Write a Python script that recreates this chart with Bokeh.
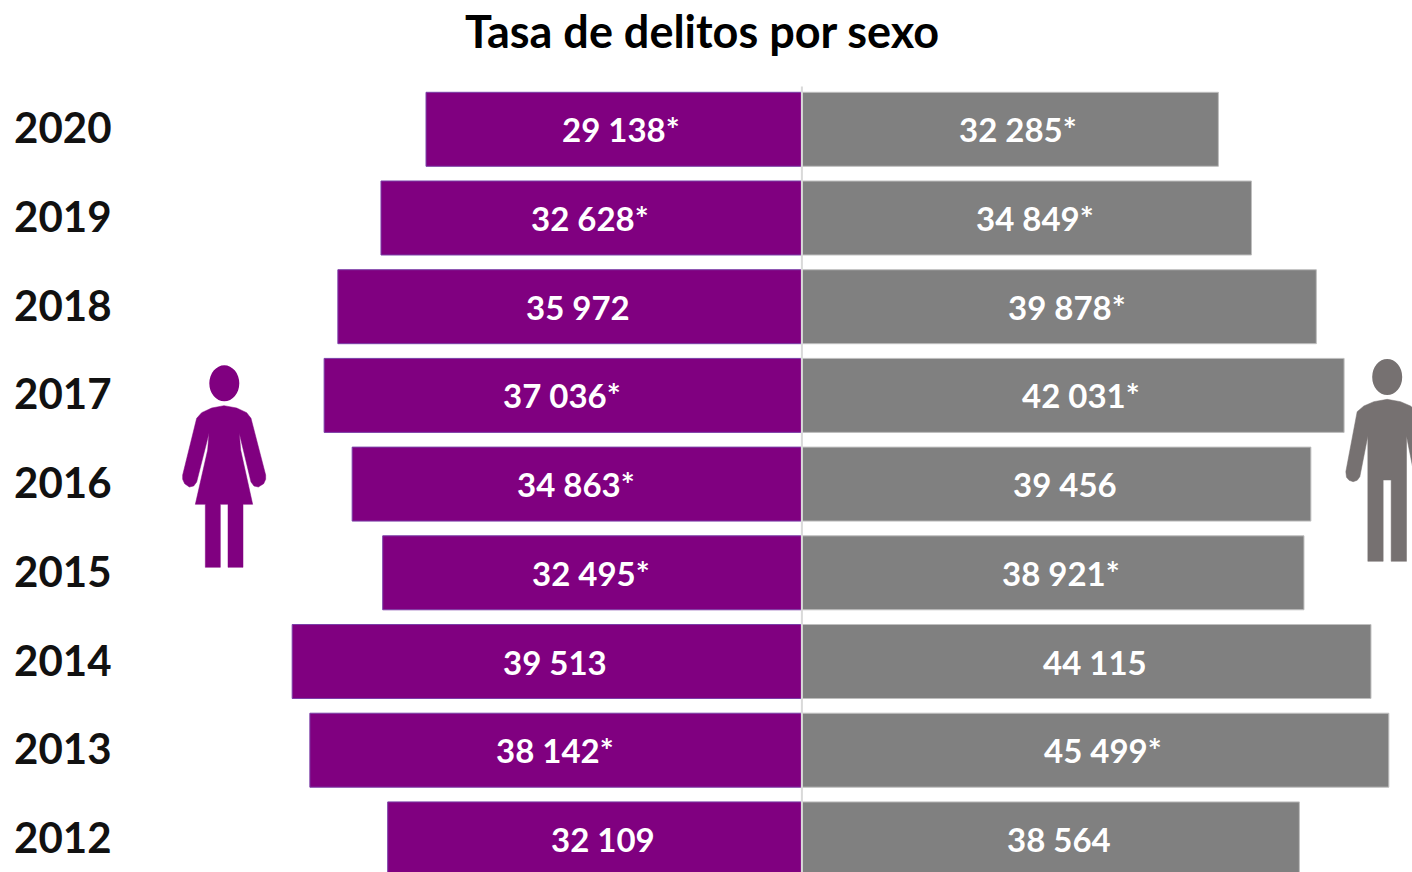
from bokeh.plotting import figure
from bokeh.models import Range1d, FixedTicker, ColumnDataSource, LinearAxis
from bokeh.core.properties import value
from bokeh.embed import file_html
from bokeh.resources import INLINE

# --- data ---
titulo = "Tasa de delitos por sexo"
years = [2020, 2019, 2018, 2017, 2016, 2015, 2014, 2013, 2012]
mujeres = [29138, 32628, 35972, 37036, 34863, 32495, 39513, 38142, 32109]
hombres = [32285, 34849, 39878, 42031, 39456, 38921, 44115, 45499, 38564]
mujeres_txt = ["29 138*", "32 628*", "35 972", "37 036*", "34 863*", "32 495*", "39 513", "38 142*", "32 109"]
hombres_txt = ["32 285*", "34 849*", "39 878*", "42 031*", "39 456", "38 921*", "44 115", "45 499*", "38 564"]

# where the data labels sit along the value axis
mujeres_label_pos = [-14030, -16434, -17364, -18604, -17519, -16356, -19147, -19147, -15426]
hombres_label_pos = [16744, 18062, 20543, 21628, 20388, 20078, 22713, 23333, 19922]

# --- layout ---
W, H = 1412, 872
LEFT = 120                   # frame offset inside the figure
PX_PER_UNIT = 0.0129
PX_PER_YEAR = 88.7
ZERO_PX = 801.4              # px of value 0
Y2020_PX = 128.8             # px of year 2020
YEAR_LABEL_SHIFT = 1.5       # year labels sit slightly above the bar centres
LINE_TOP_PX = 86             # the central line starts just above the first bar

def vx(px):
    return (px - ZERO_PX) / PX_PER_UNIT

def vy(py):
    return 2020 - (py - Y2020_PX) / PX_PER_YEAR

p = figure(width=W, height=H, output_backend="svg", toolbar_location=None,
           x_range=Range1d(vx(LEFT), vx(W)),
           y_range=Range1d(vy(H), vy(0)),
           y_axis_location=None,
           min_border_left=LEFT, min_border_top=0, min_border_right=0, min_border_bottom=0)
p.outline_line_color = None
p.grid.visible = False
p.xaxis.visible = False

p.text(x=[vx(702)], y=[vy(30)], text=[titulo], text_color="#000000",
       text_font=value("Lato"), text_font_style="bold", text_font_size="45px",
       text_align="center", text_baseline="middle")

p.extra_y_ranges["years"] = Range1d(vy(H + YEAR_LABEL_SHIFT), vy(YEAR_LABEL_SHIFT))
ax = LinearAxis(y_range_name="years", ticker=FixedTicker(ticks=years))
ax.axis_line_color = None
ax.major_tick_line_color = None
ax.minor_tick_line_color = None
ax.major_label_text_font = "Lato"
ax.major_label_text_font_style = "bold"
ax.major_label_text_font_size = "42px"
ax.major_label_text_color = "#111111"
ax.major_label_standoff = 3
ax.major_label_orientation = "horizontal"
p.add_layout(ax, "left")

src = ColumnDataSource(dict(
    y=years,
    f=[-v for v in mujeres],
    m=hombres,
    zero=[0] * len(years),
    ft=mujeres_txt, mt=hombres_txt,
    fx=mujeres_label_pos, mx=hombres_label_pos,
))

p.hbar(y="y", left="f", right="zero", height=0.834, source=src,
       fill_color="#800080", line_color="#7b3fa8", line_width=1)
p.hbar(y="y", left="zero", right="m", height=0.834, source=src,
       fill_color="#808080", line_color="#bfbfbf", line_width=1)

p.segment(x0=[0], x1=[0], y0=[vy(LINE_TOP_PX)], y1=[vy(H)], line_color="#d9d9d9", line_width=2)

p.text(x="fx", y="y", text="ft", source=src, text_color="white",
       text_font=value("Lato"), text_font_style="bold", text_font_size="33px",
       text_align="center", text_baseline="middle")
p.text(x="mx", y="y", text="mt", source=src, text_color="white",
       text_font=value("Lato"), text_font_style="bold", text_font_size="33px",
       text_align="center", text_baseline="middle")

woman = [(80, 205), (95, 188), (125, 174), (162, 167), (200, 174), (230, 188), (243, 205),
         (287, 375), (287, 388), (281, 401), (265, 411), (252, 408), (243, 396), (208, 250), (212, 300), (248, 463),
         (219, 463), (219, 652), (174, 652), (174, 463), (151, 463), (151, 652), (106, 652),
         (106, 463), (76, 463), (113, 300), (117, 250), (80, 396), (71, 408), (58, 411), (44, 401), (38, 388), (38, 375)]
wx = [vx(169.5 + a / 3) for a, _ in woman]
wy = [vy(349.5 + b / 3) for _, b in woman]
p.patch(wx, wy, fill_color="#800080", line_color="#800080", line_width=0.5)
p.ellipse(x=[vx(223.8)], y=[vy(382.8)], width=30 / PX_PER_UNIT, height=36 / PX_PER_YEAR,
          fill_color="#800080", line_color=None)

man = [(80, 185), (100, 168), (130, 155), (170, 148), (210, 155), (240, 168), (260, 185),
       (294, 365), (292, 382), (284, 391), (272, 395), (260, 391), (252, 380), (228, 258), (228, 634), (182, 634),
       (182, 390), (158, 390), (158, 634), (112, 634), (112, 258), (88, 380), (80, 391), (68, 395),
       (56, 391), (48, 382), (46, 365)]
mx_ = [vx(1330 + a / 3) for a, _ in man]
my_ = [vy(349.5 + b / 3) for _, b in man]
p.patch(mx_, my_, fill_color="#767171", line_color="#767171", line_width=0.5)
p.ellipse(x=[vx(1386.7)], y=[vy(376.5)], width=30 / PX_PER_UNIT, height=36 / PX_PER_YEAR,
          fill_color="#767171", line_color=None)

open("out.html", "w").write(file_html(p, INLINE))
